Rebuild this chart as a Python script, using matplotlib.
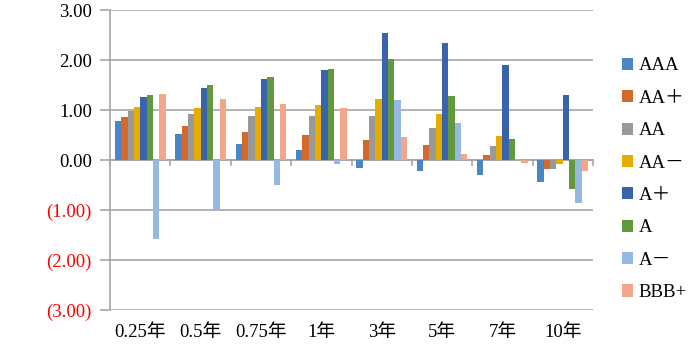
import matplotlib
matplotlib.use("Agg")
import matplotlib.pyplot as plt
import numpy as np
from matplotlib.patches import Patch

categories = ["0.25年", "0.5年", "0.75年", "1年", "3年", "5年", "7年", "10年"]
series_names = ["AAA", "AA＋", "AA", "AA－", "A＋", "A", "A－", "BBB+"]
AAA   = [0.78, 0.52, 0.33, 0.20, -0.15, -0.21, -0.29, -0.43]
AAp   = [0.86, 0.69, 0.57, 0.51, 0.40, 0.30, 0.10, -0.17]
AA    = [0.99, 0.93, 0.89, 0.88, 0.89, 0.64, 0.28, -0.17]
AAm   = [1.06, 1.05, 1.06, 1.10, 1.23, 0.93, 0.49, -0.08]
Ap    = [1.27, 1.45, 1.63, 1.81, 2.54, 2.35, 1.91, 1.30]
A     = [1.31, 1.50, 1.67, 1.83, 2.03, 1.28, 0.42, -0.57]
Am    = [-1.58, -1.00, -0.49, -0.07, 1.20, 0.74, 0.02, -0.86]
BBBp  = [1.33, 1.23, 1.13, 1.05, 0.46, 0.12, -0.06, -0.22]
series = [AAA, AAp, AA, AAm, Ap, A, Am, BBBp]
colors = ["#4A86C5", "#D5692B", "#999999", "#E6AC00", "#3A63AE", "#62993F", "#95B9E2", "#F2A68A"]
yticks = [3, 2, 1, 0, -1, -2, -3]
ytick_labels = ["3.00", "2.00", "1.00", "0.00", "(1.00)", "(2.00)", "(3.00)"]

serif = ["Liberation Serif", "Noto Sans CJK SC"]
plt.rcParams["font.family"] = serif

fig = plt.figure(figsize=(7.0, 3.51), dpi=100)
ax = fig.add_axes([110/700, 1-310/351, (593-110)/700, 300/351])

n = len(categories)
x = np.arange(n)
bw = 0.105
offsets = (np.arange(8) - 3.5) * bw
for i, (vals, c) in enumerate(zip(series, colors)):
    ax.bar(x + offsets[i], vals, width=bw, color=c, edgecolor="none", zorder=3)

ax.set_xlim(-0.5, n - 0.5)
ax.set_ylim(-3, 3)
ax.set_yticks(yticks)
ax.set_yticklabels(ytick_labels)
for lbl, v in zip(ax.get_yticklabels(), yticks):
    lbl.set_color("red" if v < 0 else "black")
ax.yaxis.grid(True, color="#A6A6A6", linewidth=1.2, zorder=0)
ax.tick_params(axis="y", length=7, width=1.2, color="#A6A6A6", labelsize=13.5, pad=6)
ax.set_xticks(x)
ax.set_xticklabels(categories)
ax.tick_params(axis="x", length=0, labelsize=13.5, pad=10)
for s in ["top", "right", "bottom"]:
    ax.spines[s].set_visible(False)
ax.spines["left"].set_color("#A6A6A6")
ax.spines["left"].set_linewidth(1.2)

# category axis at zero with boundary tick marks
ax.axhline(0, color="#A6A6A6", linewidth=1.2, zorder=2)
for b in np.arange(n + 1) - 0.5:
    ax.plot([b, b], [0, -0.1], color="#A6A6A6", linewidth=1.2, zorder=2, clip_on=False)

handles = [Patch(facecolor=c, edgecolor="none") for c in colors]
fig.legend(handles, series_names, loc="upper left", bbox_to_anchor=(614/700, 1-50/351),
           frameon=False, fontsize=13.5, handlelength=0.62, handleheight=0.62,
           handletextpad=0.3, labelspacing=0.82, borderaxespad=0)

fig.savefig("out.png", dpi=100)
